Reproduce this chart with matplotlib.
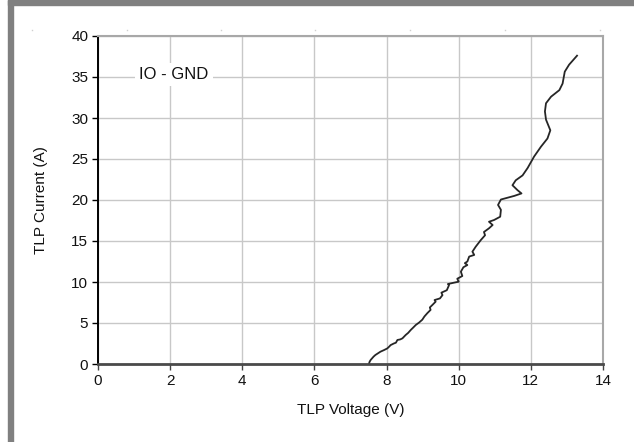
import matplotlib
matplotlib.use("Agg")
import matplotlib.pyplot as plt
from matplotlib.patches import Rectangle
from matplotlib.lines import Line2D

plt.rcParams['font.family'] = ['Liberation Sans', 'DejaVu Sans']

# TLP I-V curve (IO - GND)
voltage = [7.51, 7.53, 7.56, 7.60, 7.64, 7.69, 7.76, 7.83, 7.93, 8.02, 8.08, 8.11, 8.20, 8.26, 8.30, 8.38,
           8.44, 8.53, 8.60, 8.67, 8.74, 8.81, 8.90, 8.99, 9.05, 9.13, 9.22, 9.20, 9.27, 9.36, 9.33,
           9.48, 9.55, 9.52, 9.67, 9.73, 9.70, 9.85, 10.00, 9.96, 10.10, 10.06, 10.13, 10.24,
           10.17, 10.24, 10.29, 10.43, 10.38, 10.47, 10.61, 10.73, 10.70, 10.84, 10.94, 10.84,
           10.98, 11.15, 11.17, 11.09, 11.17, 11.54, 11.74, 11.63, 11.49, 11.58, 11.77,
           11.91, 12.09, 12.28, 12.46, 12.54, 12.42, 12.39, 12.42, 12.56, 12.79, 12.88, 12.94,
           13.06, 13.28]
current = [0.00, 0.28, 0.50, 0.70, 0.90, 1.10, 1.30, 1.50, 1.70, 1.90, 2.15, 2.30, 2.50, 2.60, 2.93, 3.00,
           3.13, 3.54, 3.80, 4.15, 4.45, 4.76, 5.05, 5.40, 5.80, 6.20, 6.60, 6.90, 7.20, 7.60, 7.80,
           8.00, 8.40, 8.70, 9.00, 9.60, 9.75, 9.90, 10.04, 10.40, 10.73, 11.26, 11.80, 12.07,
           12.30, 12.50, 13.10, 13.30, 13.70, 14.30, 15.10, 15.70, 16.10, 16.55, 16.95, 17.35,
           17.56, 17.96, 18.80, 19.40, 20.06, 20.50, 20.80, 21.20, 21.80, 22.40, 23.00,
           23.90, 25.30, 26.50, 27.50, 28.50, 29.80, 30.80, 31.80, 32.60, 33.40, 34.20, 35.65,
           36.50, 37.60]

x_ticks = [0, 2, 4, 6, 8, 10, 12, 14]
y_ticks = [0, 5, 10, 15, 20, 25, 30, 35, 40]
x_label = "TLP Voltage (V)"
y_label = "TLP Current (A)"
annotation = "IO - GND"

fig = plt.figure(figsize=(6.34, 4.42), dpi=100)
W, H = 634, 442
ax = fig.add_axes([98 / W, (H - 364) / H, (603 - 98) / W, (364 - 36) / H])

ax.plot(voltage, current, color='#262626', lw=1.3, solid_joinstyle='round')

ax.set_xlim(0, 14)
ax.set_ylim(0, 40)
ax.set_xticks(x_ticks)
ax.set_yticks(y_ticks)
ax.tick_params(axis='both', labelsize=11, direction='out', length=4, width=1, pad=3,
               labelcolor='#111111')
ax.tick_params(axis='x', color='#444444')
ax.tick_params(axis='y', color='#000000')
ax.grid(True, color='#c8c8c8', lw=1)
ax.set_axisbelow(True)

ax.spines['left'].set_color('#000000')
ax.spines['left'].set_linewidth(1.4)
ax.spines['bottom'].set_color('#4a4a4a')
ax.spines['bottom'].set_linewidth(2.0)
ax.spines['top'].set_color('#a8a8a8')
ax.spines['top'].set_linewidth(1.5)
ax.spines['right'].set_color('#a8a8a8')
ax.spines['right'].set_linewidth(1.5)

ax.set_xlabel(x_label, fontsize=11, labelpad=11, color='#111111')
ax.set_ylabel(y_label, fontsize=11, labelpad=17, color='#111111')

ax.text(2.1, 35.3, annotation, fontsize=12, ha='center', va='center', color='#111111',
        bbox=dict(boxstyle='square,pad=0.25', fc='white', ec='none'))

# outer frame (gray border top and left)
fig.patches.append(Rectangle((8 / W, 0), 5 / W, 1, transform=fig.transFigure,
                             color='#808080', zorder=10))
fig.patches.append(Rectangle((8 / W, (H - 5) / H), (W - 8) / W, 5 / H, transform=fig.transFigure,
                             color='#808080', zorder=10))

# faint dots near top
for px in [32, 127, 221, 315, 410, 505, 600]:
    fig.lines.append(Line2D([px / W], [(H - 30) / H], transform=fig.transFigure,
                            marker='s', ms=1, color='#d0d0d0', mec='none', ls='none'))

fig.savefig("out.png", dpi=100)
